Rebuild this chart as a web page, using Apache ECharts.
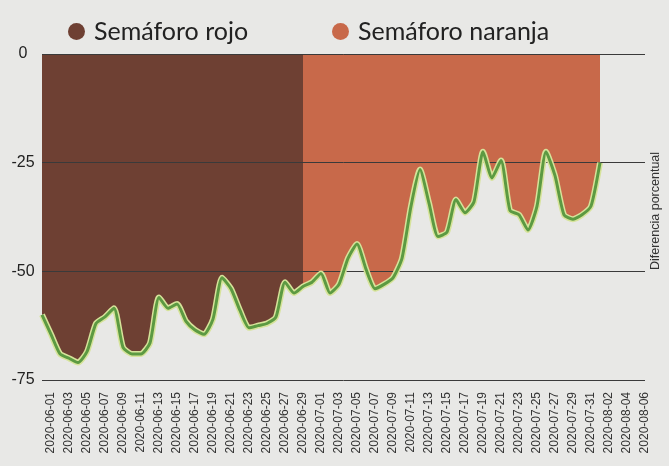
<!DOCTYPE html>
<html>
<head>
<meta charset="utf-8">
<script src="https://cdn.jsdelivr.net/npm/echarts@6/dist/echarts.min.js"></script>
<style>
  html, body { margin: 0; padding: 0; background: #e8e8e6; }
  #chart { width: 669px; height: 466px; }
</style>
</head>
<body>
<div id="chart"></div>
<script>
// daily categories 2020-05-31 .. 2020-08-06, labels shown every other day
const firstDay = '2020-05-31'
const dayCount = 68
const dates = []
for (let i = 0; i < dayCount; i++) {
  const d = new Date(firstDay + 'T00:00:00Z')
  d.setUTCDate(d.getUTCDate() + i)
  dates.push(d.toISOString().slice(0, 10))
}

// percent difference (2020-05-31 .. 2020-08-01)
const values = [
  -60, -64.5, -69, -70, -71, -68.5, -62, -60.5, -58.5, -67.5,
  -69, -69, -66.5, -56, -58.5, -57.5, -61.5, -63.5, -64.5, -61,
  -51.5, -54, -59, -63, -62.5, -62, -60.5, -52.5, -55, -53.5,
  -52.5, -50.5, -55, -53, -47, -43.7, -49.5, -54, -53, -51.5,
  -47, -35, -26.6, -34.3, -42, -41, -33.5, -36.5, -34, -22.5,
  -28.5, -24.5, -36, -37, -40.5, -35, -22.5, -28, -37, -38,
  -37, -35, -25,
]

const naranjaStart = '2020-06-29'
const yTicks = [0, -25, -50, -75]

const chart = echarts.init(document.getElementById('chart'))
const splitIdx = dates.indexOf(naranjaStart)
const rojoData = values.map((v, i) => (i <= splitIdx ? v : null))
const naranjaData = values.map((v, i) => (i >= splitIdx ? v : null))

const rojoColor = '#6e4033'
const naranjaColor = '#c8694a'
const lineColor = '#5c9a42'

const legendText = {
  fontFamily: 'Lato',
  fontSize: 25,
  color: '#222',
  padding: [0, 0, 0, 4],
}

const option = {
  backgroundColor: '#e8e8e6',
  animation: false,
  legend: [
    {
      data: ['Semáforo rojo'],
      left: 63,
      top: 14,
      icon: 'circle',
      itemWidth: 17,
      itemHeight: 17,
      textStyle: legendText,
    },
    {
      data: ['Semáforo naranja'],
      left: 327,
      top: 14,
      icon: 'circle',
      itemWidth: 17,
      itemHeight: 17,
      textStyle: legendText,
    },
  ],
  grid: {
    left: 42,
    right: 24,
    top: 54,
    bottom: 86,
  },
  xAxis: {
    type: 'category',
    data: dates,
    boundaryGap: false,
    axisLine: { show: false },
    axisTick: { show: false },
    axisLabel: {
      interval: (index) => index % 2 === 1,
      rotate: 90,
      margin: 12,
      fontFamily: 'Liberation Sans',
      fontSize: 12,
      color: '#333',
    },
  },
  yAxis: {
    type: 'value',
    min: yTicks[yTicks.length - 1],
    max: yTicks[0],
    interval: 25,
    z: 2,
    axisLine: { show: false },
    axisTick: { show: false },
    axisLabel: {
      align: 'center',
      margin: 19,
      fontFamily: 'Liberation Sans',
      fontSize: 16,
      color: '#222',
    },
    splitLine: {
      lineStyle: { color: '#3a3a3a', width: 1 },
    },
  },
  graphic: [
    {
      type: 'text',
      x: 649,
      y: 211,
      rotation: Math.PI / 2,
      style: {
        text: 'Diferencia porcentual',
        fontFamily: 'Liberation Sans',
        fontSize: 12.5,
        fill: '#333',
        align: 'center',
        verticalAlign: 'top',
      },
    },
  ],
  series: [
    {
      name: 'Semáforo rojo',
      type: 'line',
      data: rojoData,
      z: 1,
      symbol: 'none',
      smooth: 0.2,
      itemStyle: { color: rojoColor },
      lineStyle: { width: 0 },
      areaStyle: { color: rojoColor, opacity: 1, origin: 'end' },
    },
    {
      name: 'Semáforo naranja',
      type: 'line',
      data: naranjaData,
      z: 1,
      symbol: 'none',
      smooth: 0.2,
      itemStyle: { color: naranjaColor },
      lineStyle: { width: 0 },
      areaStyle: { color: naranjaColor, opacity: 1, origin: 'end' },
    },
    {
      name: 'halo',
      type: 'line',
      data: values,
      z: 3,
      symbol: 'none',
      smooth: 0.2,
      lineStyle: { color: '#d6e39a', width: 6 },
    },
    {
      name: 'Diferencia',
      type: 'line',
      data: values,
      z: 4,
      symbol: 'none',
      smooth: 0.2,
      lineStyle: { color: lineColor, width: 3 },
    },
  ],
}

chart.setOption(option)
</script>
</body>
</html>
